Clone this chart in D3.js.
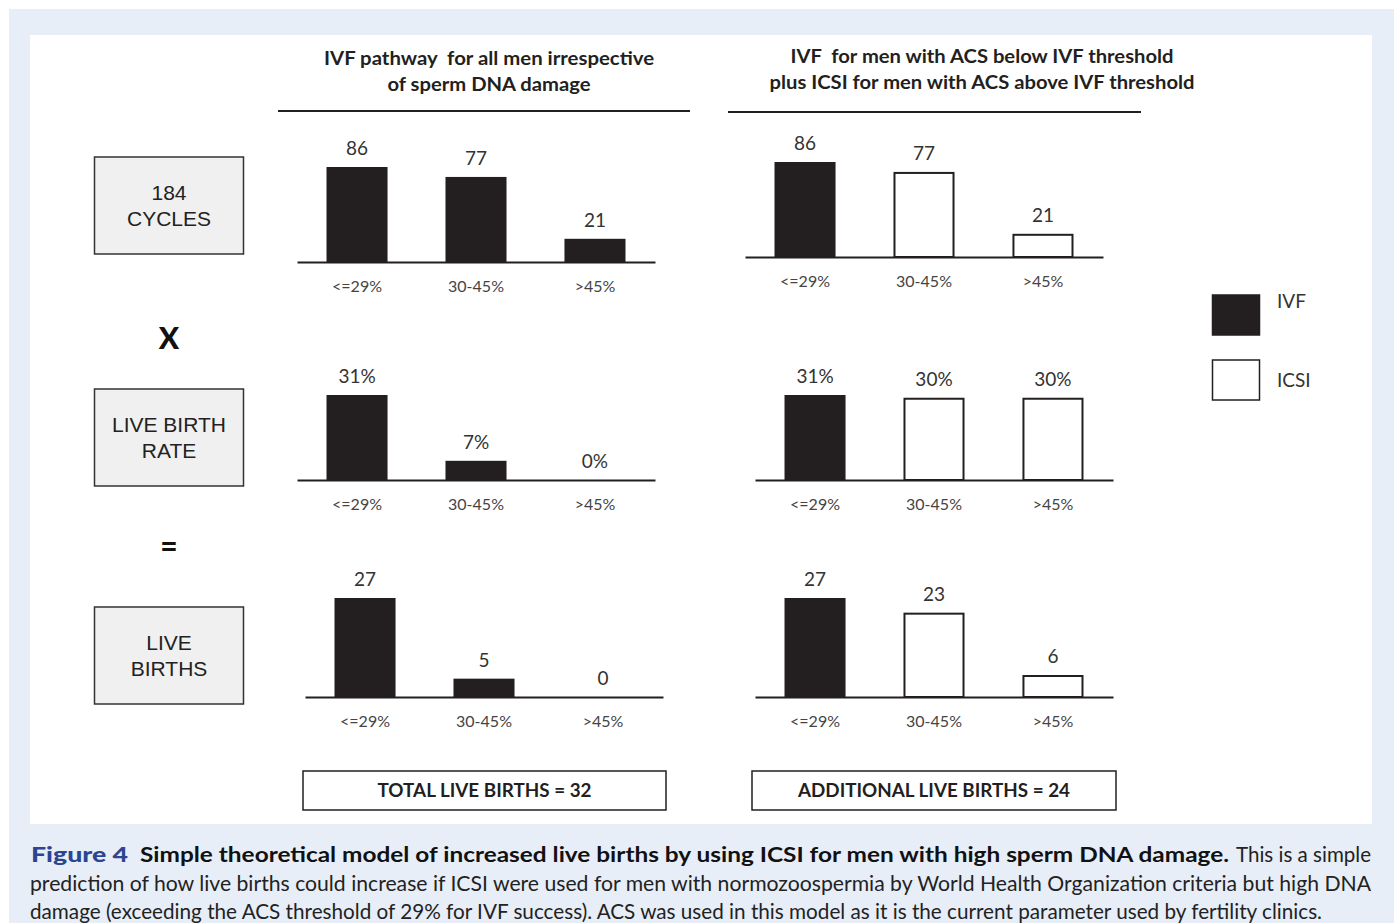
<!DOCTYPE html>
<html>
<head>
<meta charset="utf-8">
<script src="https://cdn.jsdelivr.net/npm/d3@7"></script>
<style>
  html, body { margin: 0; padding: 0; background: #ffffff; }
  svg { display: block; }
</style>
</head>
<body>
<svg id="chart" width="1394" height="923"></svg>
<script>
// ---------------- DATA ----------------
const categories = ["<=29%", "30-45%", ">45%"];
const cyclesIVF = [86, 77, 21];
const cyclesCombined = [86, 77, 21];
const rateIVF = [31, 7, 0];
const rateCombined = [31, 30, 30];
const birthsIVF = [27, 5, 0];
const birthsCombined = [27, 23, 6];
const methodIVF = ["IVF", "IVF", "IVF"];
const methodCombined = ["IVF", "ICSI", "ICSI"];
const rateLabelsIVF = ["31%", "7%", "0%"];
const rateLabelsCombined = ["31%", "30%", "30%"];
const rowLabels = [["184", "CYCLES"], ["LIVE BIRTH", "RATE"], ["LIVE", "BIRTHS"]];
const operators = ["X", "="];
const leftTitle = ["IVF pathway  for all men irrespective", "of sperm DNA damage"];
const rightTitle = ["IVF  for men with ACS below IVF threshold", "plus ICSI for men with ACS above IVF threshold"];
const totals = ["TOTAL LIVE BIRTHS = 32", "ADDITIONAL LIVE BIRTHS = 24"];
const legendItems = ["IVF", "ICSI"];

// ---------------- SETUP ----------------
const svg = d3.select("#chart");
const INK = "#231f20";
const chartFont = "Lato, 'Open Sans', sans-serif";

svg.append("rect").attr("x", 9).attr("y", 9).attr("width", 1385).attr("height", 914).attr("fill", "#e7eef8");
svg.append("rect").attr("x", 30).attr("y", 35).attr("width", 1342).attr("height", 789).attr("fill", "#ffffff");

// Titles
function title(lines, cx, ys, lens) {
  lines.forEach((t, i) => {
    svg.append("text").attr("x", cx).attr("y", ys[i]).attr("text-anchor", "middle")
      .attr("font-family", chartFont).attr("font-weight", "bold").attr("font-size", 19)
      .style("white-space", "pre")
      .attr("fill", "#231f20").attr("textLength", lens[i]).attr("lengthAdjust", "spacingAndGlyphs")
      .text(t);
  });
}
title(leftTitle, 489, [65, 91], [330, 203]);
title(rightTitle, 982, [63, 89], [383, 425]);
svg.append("line").attr("x1", 278).attr("x2", 690).attr("y1", 111).attr("y2", 111).attr("stroke", INK).attr("stroke-width", 2);
svg.append("line").attr("x1", 728).attr("x2", 1141).attr("y1", 112).attr("y2", 112).attr("stroke", INK).attr("stroke-width", 2);

// ---------------- PANELS ----------------
const BAND_W = 358;
function panel(opt) {
  const x = d3.scaleBand().domain(categories).range([opt.x0, opt.x0 + BAND_W])
    .paddingInner(0.487).paddingOuter(0.248);
  const y = d3.scaleLinear().domain([0, opt.max]).range([opt.base, opt.base - opt.maxH]);
  const g = svg.append("g");
  const data = categories.map((c, i) => ({ c, v: opt.values[i], m: opt.methods[i], l: opt.labels[i] }));

  g.selectAll("rect.bar").data(data).join("rect").attr("class", "bar")
    .attr("x", d => x(d.c) + (d.m === "ICSI" ? 1 : 0))
    .attr("width", d => x.bandwidth() - (d.m === "ICSI" ? 2 : 0))
    .attr("y", d => y(d.v) + (d.m === "ICSI" ? 1 : 0))
    .attr("height", d => Math.max(0, opt.base - y(d.v) - (d.m === "ICSI" ? 1 : 0)))
    .attr("fill", d => d.m === "IVF" ? INK : "#ffffff")
    .attr("stroke", d => d.m === "IVF" ? "none" : INK)
    .attr("stroke-width", 2);

  g.selectAll("text.val").data(data).join("text").attr("class", "val")
    .attr("x", d => x(d.c) + x.bandwidth() / 2)
    .attr("y", d => y(d.v) - 12)
    .attr("text-anchor", "middle").attr("font-family", chartFont).attr("font-size", 19)
    .attr("fill", "#333").text(d => d.l);

  const axis = d3.axisBottom(x).tickSize(0).tickSizeOuter(0).tickPadding(19);
  const ag = svg.append("g").attr("transform", `translate(0,${opt.base})`).call(axis);
  ag.select(".domain").attr("stroke", INK).attr("stroke-width", 2);
  ag.selectAll(".tick text").attr("font-family", chartFont).attr("font-size", 16)
    .attr("fill", "#444").attr("dy", "0.71em");
}

panel({ x0: 297, base: 262, max: 86, maxH: 95, values: cyclesIVF, methods: methodIVF, labels: cyclesIVF.map(String) });
panel({ x0: 745, base: 257, max: 86, maxH: 95, values: cyclesCombined, methods: methodCombined, labels: cyclesCombined.map(String) });
panel({ x0: 297, base: 480, max: 31, maxH: 85, values: rateIVF, methods: methodIVF, labels: rateLabelsIVF });
panel({ x0: 755, base: 480, max: 31, maxH: 85, values: rateCombined, methods: methodCombined, labels: rateLabelsCombined });
panel({ x0: 305, base: 697, max: 27, maxH: 99, values: birthsIVF, methods: methodIVF, labels: birthsIVF.map(String) });
panel({ x0: 755, base: 697, max: 27, maxH: 99, values: birthsCombined, methods: methodCombined, labels: birthsCombined.map(String) });

// ---------------- ROW LABEL BOXES ----------------
const boxTops = [157, 389, 607];
rowLabels.forEach((lines, i) => {
  const top = boxTops[i];
  svg.append("rect").attr("x", 94.5).attr("y", top).attr("width", 149).attr("height", 97)
    .attr("fill", "#f0f0f0").attr("stroke", "#333").attr("stroke-width", 1.5);
  lines.forEach((t, j) => {
    svg.append("text").attr("x", 169).attr("y", top + 43 + j * 26).attr("text-anchor", "middle")
      .attr("font-family", "'Liberation Sans', Arial, sans-serif").attr("font-size", 21)
      .attr("fill", "#222").text(t);
  });
});
const opY = [349, 557];
operators.forEach((t, i) => {
  svg.append("text").attr("x", 169).attr("y", opY[i]).attr("text-anchor", "middle")
    .attr("font-family", chartFont).attr("font-weight", "900").attr("font-size", 30)
    .attr("fill", "#111").text(t);
});

// ---------------- TOTAL BOXES ----------------
const totalBoxes = [{ x: 303, w: 363 }, { x: 752, w: 364 }];
const totalLens = [214, 272];
totals.forEach((t, i) => {
  const b = totalBoxes[i];
  svg.append("rect").attr("x", b.x).attr("y", 771).attr("width", b.w).attr("height", 39)
    .attr("fill", "#fff").attr("stroke", INK).attr("stroke-width", 1.5);
  svg.append("text").attr("x", b.x + b.w / 2).attr("y", 797).attr("text-anchor", "middle")
    .attr("font-family", chartFont).attr("font-weight", "bold").attr("font-size", 19)
    .attr("fill", "#231f20").attr("textLength", totalLens[i]).attr("lengthAdjust", "spacingAndGlyphs")
    .text(t);
});

// ---------------- LEGEND ----------------
const legY = [295, 360];
legendItems.forEach((t, i) => {
  svg.append("rect").attr("x", 1212.5).attr("y", legY[i]).attr("width", 47).attr("height", 40)
    .attr("fill", t === "IVF" ? INK : "#fff").attr("stroke", INK).attr("stroke-width", 1.5);
  svg.append("text").attr("x", 1277).attr("y", legY[i] + (i === 0 ? 13 : 27)).attr("font-family", chartFont)
    .attr("font-size", 19).attr("fill", "#333").text(t);
});

// ---------------- CAPTION ----------------
const capFont = "Lato, 'Open Sans', sans-serif";
const cap = [
  { t: "Figure 4", x: 31, y: 862, len: 97, w: "900", c: "#2b4593" },
  { t: "Simple theoretical model of increased live births by using ICSI for men with high sperm DNA damage.", x: 140, y: 862, len: 1089, w: "bold", c: "#111" },
  { t: "This is a simple", x: 1236, y: 862, len: 135, w: "normal", c: "#222" },
  { t: "prediction of how live births could increase if ICSI were used for men with normozoospermia by World Health Organization criteria but high DNA", x: 30, y: 891, len: 1341, w: "normal", c: "#222" },
  { t: "damage (exceeding the ACS threshold of 29% for IVF success). ACS was used in this model as it is the current parameter used by fertility clinics.", x: 30, y: 919, len: 1292, w: "normal", c: "#222" }
];
cap.forEach(d => {
  svg.append("text").attr("x", d.x).attr("y", d.y).attr("font-family", capFont)
    .attr("font-size", 21).attr("font-weight", d.w).attr("fill", d.c)
    .attr("textLength", d.len).attr("lengthAdjust", "spacingAndGlyphs").text(d.t);
});
</script>
</body>
</html>
